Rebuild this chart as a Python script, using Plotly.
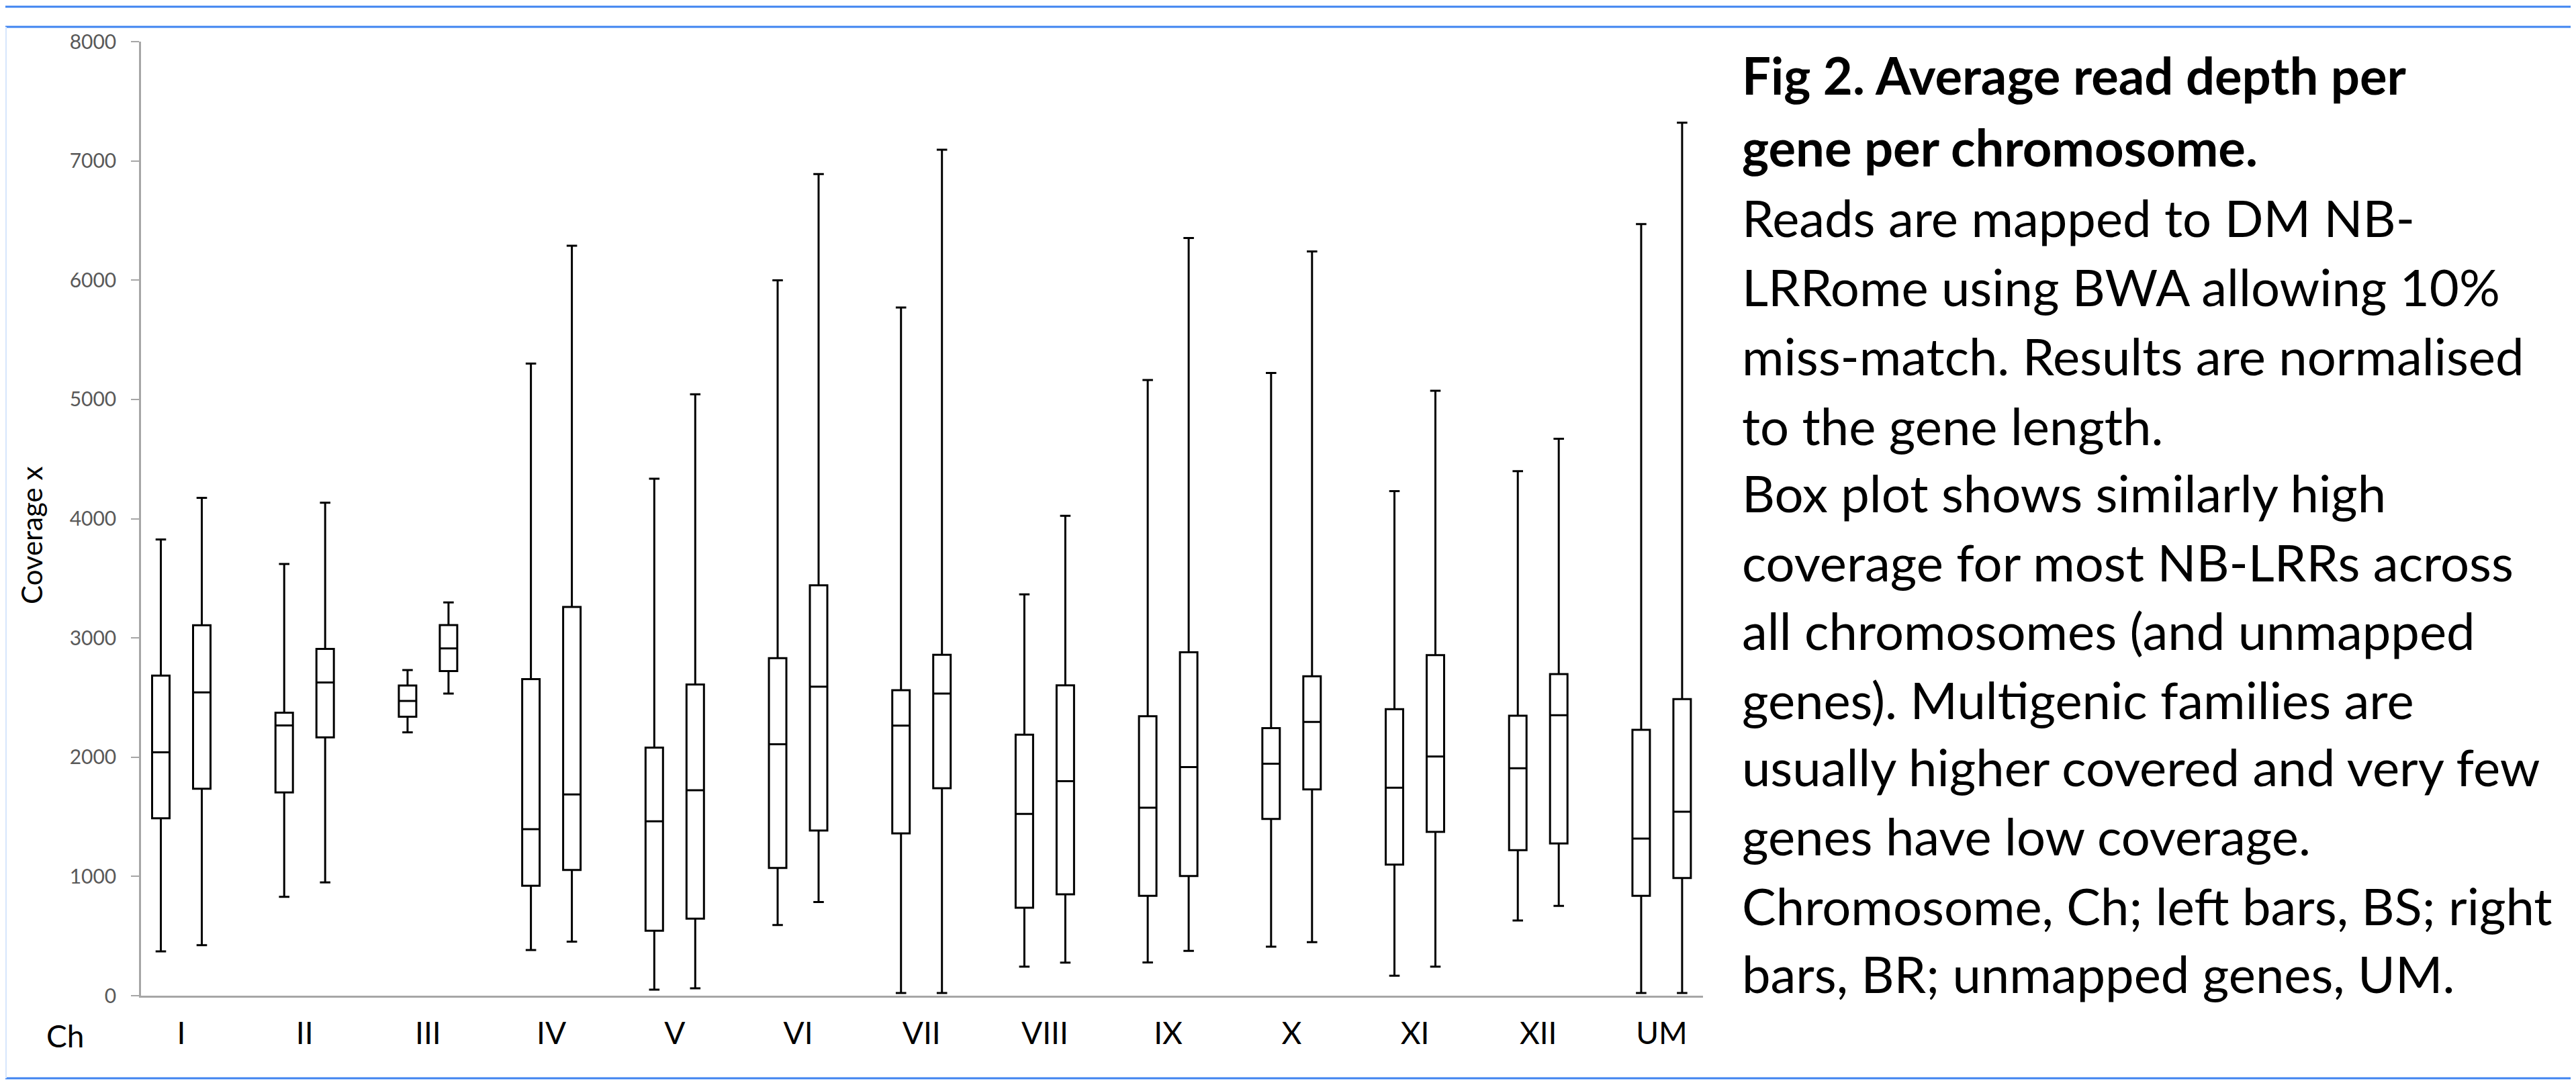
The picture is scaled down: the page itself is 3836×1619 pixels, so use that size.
import plotly.graph_objects as go

# ---------------- data ----------------
categories = ["I", "II", "III", "IV", "V", "VI", "VII", "VIII", "IX", "X", "XI", "XII", "UM"]

# left bars (BS)
bs_low = [372, 829, 2209, 383, 51, 592, 22, 244, 278, 411, 168, 631, 23]
bs_q1 = [1488, 1705, 2339, 922, 544, 1071, 1361, 738, 838, 1482, 1099, 1220, 837]
bs_med = [2041, 2266, 2471, 1396, 1462, 2108, 2265, 1524, 1576, 1945, 1744, 1907, 1318]
bs_q3 = [2684, 2373, 2601, 2654, 2080, 2830, 2561, 2189, 2344, 2244, 2403, 2347, 2230]
bs_high = [3825, 3620, 2730, 5300, 4335, 5998, 5771, 3365, 5163, 5222, 4231, 4399, 6470]

# right bars (BR)
br_low = [423, 950, 2534, 453, 62, 785, 22, 277, 376, 449, 243, 753, 23]
br_q1 = [1736, 2166, 2722, 1054, 646, 1385, 1740, 850, 1003, 1730, 1374, 1276, 986]
br_med = [2543, 2627, 2912, 1687, 1723, 2591, 2533, 1799, 1917, 2295, 2006, 2352, 1543]
br_q3 = [3106, 2908, 3108, 3260, 2610, 3441, 2859, 2603, 2879, 2679, 2856, 2697, 2487]
br_high = [4175, 4134, 3297, 6289, 5043, 6889, 7093, 4024, 6353, 6241, 5072, 4670, 7320]

y_ticks = [0, 1000, 2000, 3000, 4000, 5000, 6000, 7000, 8000]

caption_lines = [
    ("Fig 2. Average read depth per", True),
    ("gene per chromosome.", True),
    ("Reads are mapped to DM NB-", False),
    ("LRRome using BWA allowing 10%", False),
    ("miss-match. Results are normalised", False),
    ("to the gene length.", False),
    ("Box plot shows similarly high", False),
    ("coverage for most NB-LRRs across", False),
    ("all chromosomes (and unmapped", False),
    ("genes). Multigenic families are", False),
    ("usually higher covered and very few", False),
    ("genes have low coverage.", False),
    ("Chromosome, Ch; left bars, BS; right", False),
    ("bars, BR; unmapped genes, UM.", False),
]

# ---------------- layout geometry ----------------
W, H = 3836, 1619
L, R, T, B = 202, 2528, 54, 1475
PW, PH = R - L, B - T

def px(x):
    return (x - L) / PW

def py(y):
    return (B - y) / PH

FONT = "Lato, Carlito, 'Open Sans', sans-serif"
offset = 0.166
box_w = 0.1415
idx = list(range(len(categories)))

fig = go.Figure()
for name, xs, lo, q1, md, q3, hi in [
    ("BS", [i - offset for i in idx], bs_low, bs_q1, bs_med, bs_q3, bs_high),
    ("BR", [i + offset for i in idx], br_low, br_q1, br_med, br_q3, br_high),
]:
    fig.add_trace(go.Box(
        name=name, x=xs, q1=q1, median=md, q3=q3,
        lowerfence=lo, upperfence=hi,
        width=box_w, whiskerwidth=0.6,
        fillcolor="white", line=dict(color="black", width=3),
        boxpoints=False, showlegend=False, hoverinfo="skip",
    ))

x0 = -(262 - L) / 183.7
x1 = x0 + PW / 183.7

fig.update_layout(
    width=W, height=H,
    margin=dict(l=L, r=W - R, t=T, b=H - B),
    paper_bgcolor="white", plot_bgcolor="white",
    font=dict(family=FONT, color="black"),
    boxmode="overlay",
    xaxis=dict(
        range=[x0, x1], tickmode="array", tickvals=idx, ticktext=categories,
        showgrid=False, zeroline=False, showline=True, linecolor="#A6A6A6",
        linewidth=2.5, ticks="", tickfont=dict(size=46, color="black", family=FONT),
        ticklabelstandoff=14,
    ),
    yaxis=dict(
        range=[0, 8000], tickmode="array", tickvals=y_ticks,
        showgrid=False, zeroline=False, showline=True, linecolor="#A6A6A6",
        linewidth=2.5, ticks="outside", ticklen=12, tickcolor="#A6A6A6", tickwidth=2,
        tickfont=dict(size=30, color="#595959", family=FONT),
        ticklabelstandoff=16,
    ),
)

annotations = []
annotations.append(dict(
    x=px(89), y=py(1534), xref="paper", yref="paper", text="Ch",
    showarrow=False, xanchor="center", yanchor="middle",
    font=dict(size=46, color="black", family=FONT),
))
annotations.append(dict(
    x=px(39), y=py(790), xref="paper", yref="paper", text="Coverage x",
    textangle=-90, showarrow=False, xanchor="center", yanchor="middle",
    font=dict(size=42, color="black", family=FONT),
))

baselines = [129, 236, 341, 444, 547, 651, 751, 854, 956, 1059, 1159, 1262, 1366, 1467]
fs = 76
for (txt, bold), base in zip(caption_lines, baselines):
    annotations.append(dict(
        x=px(2584), y=py(base - 0.33 * fs), xref="paper", yref="paper",
        text=f"<b>{txt}</b>" if bold else txt,
        showarrow=False, xanchor="left", yanchor="middle",
        font=dict(size=fs, color="black", family=FONT),
    ))
fig.update_layout(annotations=annotations)

blue = "#3F84F0"
shapes = [
    dict(type="line", xref="paper", yref="paper", x0=px(0), x1=px(W), y0=py(2), y1=py(2),
         line=dict(color=blue, width=3)),
    dict(type="line", xref="paper", yref="paper", x0=px(0), x1=px(W), y0=py(32), y1=py(32),
         line=dict(color=blue, width=3)),
    dict(type="line", xref="paper", yref="paper", x0=px(0), x1=px(W), y0=py(1598), y1=py(1598),
         line=dict(color=blue, width=3)),
    dict(type="line", xref="paper", yref="paper", x0=px(1), x1=px(1), y0=py(32), y1=py(1598),
         line=dict(color="#D6E6FC", width=2)),
]
fig.update_layout(shapes=shapes)

fig.write_html("out.html")
